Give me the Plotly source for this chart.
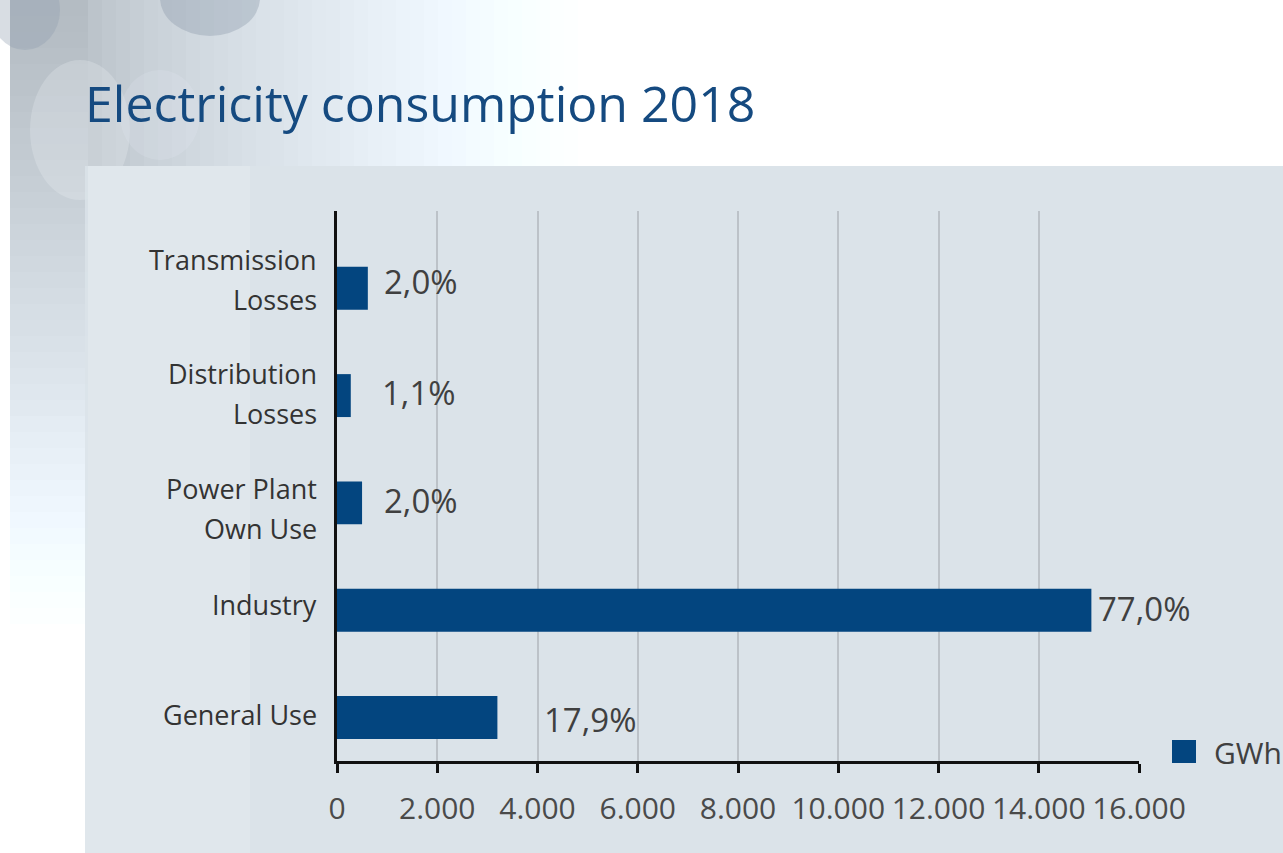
import plotly.graph_objects as go

# Electricity consumption by use, 2018 (GWh) and share of total
categories = ["General Use", "Industry", "Power Plant<br>Own Use",
              "Distribution<br>Losses", "Transmission<br>Losses"]
gwh = [3200, 15050, 500, 275, 615]
share_pct = [17.9, 77.0, 2.0, 1.1, 2.0]
x_ticks = [0, 2000, 4000, 6000, 8000, 10000, 12000, 14000, 16000]
title_text = "Electricity consumption 2018"
legend_name = "GWh"

W, H = 1283, 853
NAVY = "#03457f"
FONT = "Open Sans"


def px(x):
    return x / W


def py(y):
    return 1 - y / H


def grey(c, dg=8, db=15):
    return f"rgb({c},{min(255, c + dg)},{min(255, c + db)})"


shapes = []

# soft frosted backdrop on the upper left, fading to white
n_left = 40
for i in range(n_left):
    t = i / (n_left - 1)
    y0 = i * 16
    c = int(180 + (255 - 180) * t ** 1.1)
    shapes.append(dict(type="rect", xref="paper", yref="paper", layer="below",
                       x0=px(10), x1=px(88), y0=py(y0 + 17), y1=py(y0),
                       fillcolor=grey(c), line_width=0))
n_top = 36
for i in range(n_top):
    t = i / (n_top - 1)
    x0 = 88 + i * 14
    c = int(188 + (255 - 188) * t ** 0.75)
    shapes.append(dict(type="rect", xref="paper", yref="paper", layer="below",
                       x0=px(x0), x1=px(x0 + 15), y0=py(166), y1=py(0),
                       fillcolor=grey(c), line_width=0))
# darker ice patches and pale frost streaks
for (x0, y0, x1, y1, col, op) in [
    (160, -40, 260, 36, "#8696a6", 0.35),
    (-10, -30, 60, 50, "#8f9fae", 0.35),
    (30, 60, 130, 200, "#eef3f7", 0.25),
    (120, 70, 200, 160, "#e6edf3", 0.2),
]:
    shapes.append(dict(type="circle", xref="paper", yref="paper", layer="below",
                       x0=px(x0), x1=px(x1), y0=py(y1), y1=py(y0),
                       fillcolor=col, opacity=op, line_width=0))

# chart panel (slightly see-through at its left edge)
shapes.append(dict(type="rect", xref="paper", yref="paper", layer="below",
                   x0=px(85), x1=px(250), y0=py(H + 2), y1=py(166),
                   fillcolor="#dbe3e9", opacity=0.85, line_width=0))
shapes.append(dict(type="rect", xref="paper", yref="paper", layer="below",
                   x0=px(250), x1=px(W + 2), y0=py(H + 2), y1=py(166),
                   fillcolor="#dbe3e9", line_width=0))
# legend swatch
shapes.append(dict(type="rect", xref="paper", yref="paper",
                   x0=px(1172), x1=px(1196), y0=py(763), y1=py(740),
                   fillcolor=NAVY, line_width=0))

fig = go.Figure()
fig.add_trace(go.Bar(
    y=categories, x=gwh, orientation="h", width=0.4, name=legend_name,
    marker=dict(color=NAVY, line_width=0), showlegend=False,
    hovertemplate="%{y}: %{x:,.0f} GWh<extra></extra>",
))

annotations = []
# share labels beside each bar
label_gap = [47, 7, 22, 31, 16]
label_lift = [-2, 2, 2, 3, 7]
for cat, v, p, gap, lift in zip(categories, gwh, share_pct, label_gap, label_lift):
    annotations.append(dict(
        x=v, y=cat, xref="x", yref="y", xanchor="left", yanchor="middle",
        text=f"{p:.1f}".replace(".", ",") + "%", showarrow=False,
        xshift=gap - 2, yshift=lift,
        font=dict(family=FONT, size=33, color="#404040"),
    ))
# category labels, one line at a time for wider line spacing
cat_lift = [3, 6, -6, 2, 9]
for cat, lift in zip(categories, cat_lift):
    lines = cat.split("<br>")
    n = len(lines)
    for k, line in enumerate(lines):
        annotations.append(dict(
            x=0, y=cat, xref="x", yref="y", xanchor="right", yanchor="middle",
            text=line, showarrow=False, xshift=-18,
            yshift=lift + (n - 1) / 2 * 40 - k * 40,
            font=dict(family=FONT, size=27, color="#333333"),
        ))
annotations.append(dict(
    x=px(83), y=py(103), xref="paper", yref="paper", xanchor="left",
    yanchor="middle", text=title_text, showarrow=False,
    font=dict(family=FONT, size=50, color="#154a80"),
))
annotations.append(dict(
    x=px(1212), y=py(752), xref="paper", yref="paper", xanchor="left",
    yanchor="middle", text=legend_name, showarrow=False,
    font=dict(family=FONT, size=30, color="#404040"),
))

fig.update_layout(
    width=W, height=H,
    margin=dict(l=0, r=0, t=0, b=0, autoexpand=False),
    paper_bgcolor="white", plot_bgcolor="rgba(0,0,0,0)",
    separators=",.",
    shapes=shapes, annotations=annotations,
    showlegend=False,
    xaxis=dict(
        domain=[px(337), px(1139)], range=[0, 16000],
        tickvals=x_ticks, tickformat=",d",
        showgrid=True, gridcolor="#bcc2c8", gridwidth=2,
        zeroline=False, showline=True, linecolor="#111111", linewidth=2.5,
        ticks="outside", ticklen=9, tickwidth=2.5, tickcolor="#111111",
        ticklabelstandoff=10,
        tickfont=dict(family=FONT, size=30, color="#4a4a4a"),
        fixedrange=True,
    ),
    yaxis=dict(
        domain=[py(761), py(211)], range=[-0.405, 4.72],
        type="category", categoryorder="array", categoryarray=categories,
        showticklabels=False, showgrid=False, zeroline=False,
        showline=True, linecolor="#111111", linewidth=2.5, ticks="",
        fixedrange=True,
    ),
)

fig.write_html("out.html")
